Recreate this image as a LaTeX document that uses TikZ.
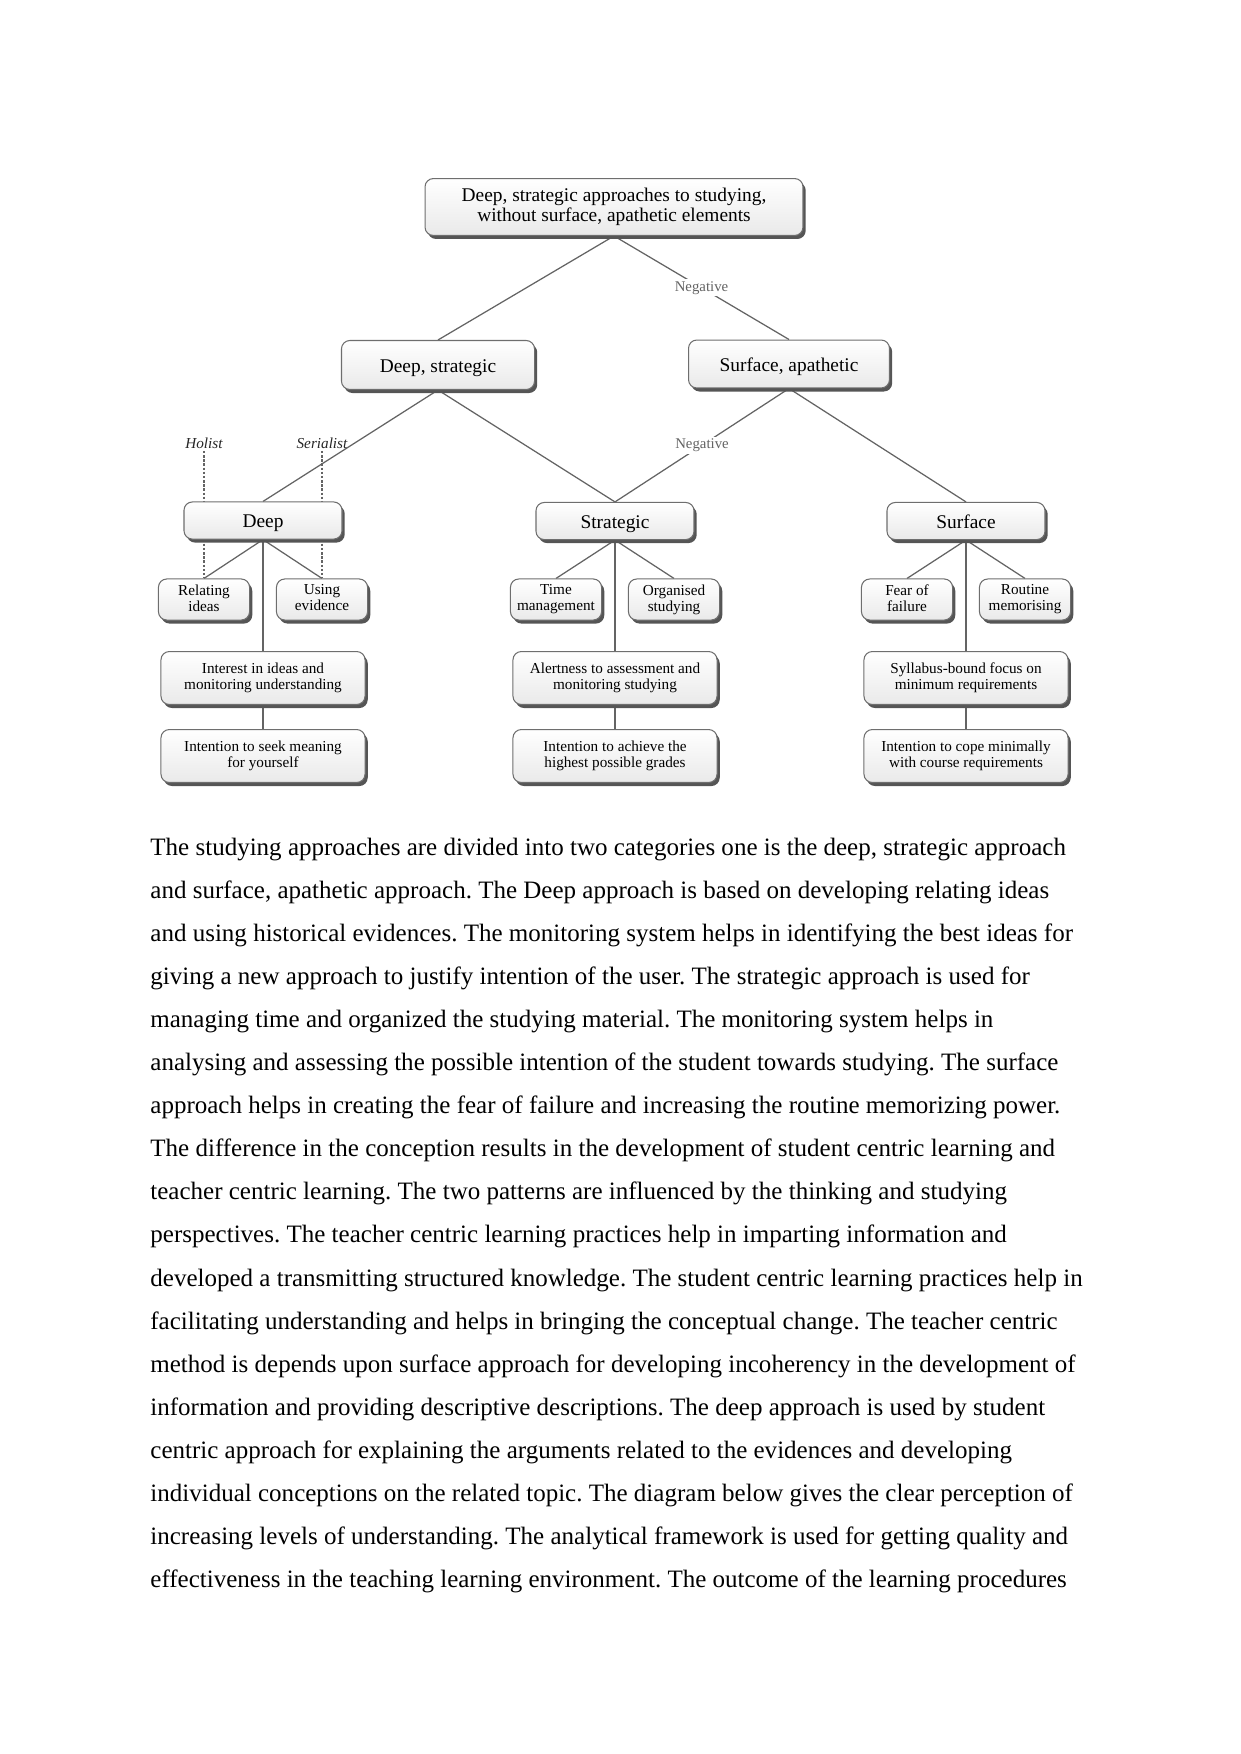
\documentclass[tikz,border=0pt]{standalone}
\usepackage{fontspec}
\setmainfont{Liberation Serif}
\usetikzlibrary{shadows,backgrounds}
\definecolor{linegray}{RGB}{100,100,100}
\definecolor{bordergray}{RGB}{110,110,110}
\definecolor{shadowgray}{RGB}{85,85,85}
\frenchspacing
\begin{document}
\begin{tikzpicture}[x=0.4797pt,y=-0.4797pt,
  box/.style={draw=bordergray, line width=0.5pt, rounded corners=4pt,
    top color=white, bottom color=gray!17,
    drop shadow={shadow xshift=1.3pt, shadow yshift=-1.7pt, fill=shadowgray, opacity=1},
    align=center, inner sep=0pt, text=black},
  big/.style={box, font=\fontsize{9.3}{9.6}\selectfont,
    execute at begin node=\rule{0pt}{8.9pt}, execute at end node=\rule[-2pt]{0pt}{2pt}},
  lvlthree/.style={big, minimum width=75.8pt, minimum height=17.8pt},
  smallbox/.style={box, font=\fontsize{7.3}{7.6}\selectfont, minimum width=43.7pt, minimum height=19.7pt,
    execute at begin node=\rule{0pt}{6.7pt}, execute at end node=\rule[-1.6pt]{0pt}{1.6pt}},
  midbox/.style={box, font=\fontsize{7.3}{7.4}\selectfont, minimum width=97.9pt, minimum height=25.4pt,
    execute at begin node=\rule{0pt}{6pt}, execute at end node=\rule[-1.6pt]{0pt}{1.6pt}},
  conn/.style={draw=linegray, line width=0.6pt},
  dashln/.style={draw=linegray, line width=0.6pt, dash pattern=on 1.2pt off 0.8pt},
  neg/.style={fill=white, inner sep=1pt, font=\fontsize{7.1}{8}\selectfont, text=linegray},
  style lbl/.style={font=\fontsize{7.3}{8}\selectfont\itshape, inner sep=1pt, text=black!85},
  body/.style={anchor=base west, inner sep=0pt, font=\fontsize{12}{13.8}\selectfont}
]
\useasboundingbox (0,0) rectangle (1241,1754);

% level 1 and 2
\node[big, minimum width=181.3pt, minimum height=27.3pt, execute at begin node=\rule{0pt}{11pt}] (top) at (614,207) {Deep, strategic approaches to studying,\\without surface, apathetic elements};
\node[big, minimum width=92.6pt, minimum height=23.5pt] (ds) at (438,365) {Deep, strategic};
\node[big, minimum width=96.4pt, minimum height=23pt] (sa) at (789,364) {Surface, apathetic};

% level 3
\node[lvlthree] (deep) at (263,520.5) {Deep};
\node[lvlthree] (strat) at (615,521) {Strategic};
\node[lvlthree] (surf) at (966,521) {Surface};

% small boxes
\node[smallbox] (rel) at (204,599.5) {Relating\\ideas};
\node[smallbox] (use) at (322,599.5) {Using\\evidence};
\node[smallbox] (time) at (556,599.5) {Time\\management};
\node[smallbox] (org) at (674,599.5) {Organised\\studying};
\node[smallbox] (fear) at (907,599.5) {Fear of\\failure};
\node[smallbox] (rout) at (1025,599.5) {Routine\\memorising};

% middle boxes
\node[midbox] (int) at (263,678) {Interest in ideas and\\monitoring understanding};
\node[midbox] (alert) at (615,678) {Alertness to assessment and\\monitoring studying};
\node[midbox] (syl) at (966,678) {Syllabus-bound focus on\\minimum requirements};

% bottom boxes
\node[midbox] (seek) at (263,756) {Intention to seek meaning\\for yourself};
\node[midbox] (grade) at (615,756) {Intention to achieve the\\highest possible grades};
\node[midbox] (cope) at (966,756) {Intention to cope minimally\\with course requirements};

% style labels
\node[style lbl] (hol) at (204,443) {Holist};
\node[style lbl] (ser) at (322,443) {Serialist};

\begin{scope}[on background layer]
  \draw[conn] (top.south) -- (ds.north);
  \draw[conn] (top.south) -- node[neg] {Negative} (sa.north);
  \draw[conn] (ds.south) -- (deep.north);
  \draw[conn] (ds.south) -- (strat.north);
  \draw[conn] (sa.south) -- node[neg] {Negative} (strat.north);
  \draw[conn] (sa.south) -- (surf.north);
  \foreach \p/\l/\r/\m/\b in {deep/rel/use/int/seek, strat/time/org/alert/grade, surf/fear/rout/syl/cope}{
    \draw[conn] (\p.south) -- (\l.north);
    \draw[conn] (\p.south) -- (\r.north);
    \draw[conn] (\p.south) -- (\m.north);
    \draw[conn] (\m.south) -- (\b.north);
  }
  \draw[dashln] (hol.south) -- (hol.south |- deep.north);
  \draw[dashln] (rel.north |- deep.south) -- (rel.north);
  \draw[dashln] (ser.south) -- (ser.south |- deep.north);
  \draw[dashln] (use.north |- deep.south) -- (use.north);
\end{scope}

% body text
\node[body] (t1) at (150,855) {The studying approaches are divided into two categories one is the deep, strategic approach};
\node[body] (t2) at (150,898.1) {and surface, apathetic approach. The Deep approach is based on developing relating ideas};
\node[body] (t3) at (150,941.2) {and using historical evidences. The monitoring system helps in identifying the best ideas for};
\node[body] (t4) at (150,984.3) {giving a new approach to justify intention of the user. The strategic approach is used for};
\node[body] (t5) at (150,1027.4) {managing time and organized the studying material. The monitoring system helps in};
\node[body] (t6) at (150,1070.5) {analysing and assessing the possible intention of the student towards studying. The surface};
\node[body] (t7) at (150,1113.6) {approach helps in creating the fear of failure and increasing the routine memorizing power.};
\node[body] (t8) at (150,1156.7) {The difference in the conception results in the development of student centric learning and};
\node[body] (t9) at (150,1199.8) {teacher centric learning. The two patterns are influenced by the thinking and studying};
\node[body] (t10) at (150,1242.9) {perspectives. The teacher centric learning practices help in imparting information and};
\node[body] (t11) at (150,1286) {developed a transmitting structured knowledge. The student centric learning practices help in};
\node[body] (t12) at (150,1329.1) {facilitating understanding and helps in bringing the conceptual change. The teacher centric};
\node[body] (t13) at (150,1372.2) {method is depends upon surface approach for developing incoherency in the development of};
\node[body] (t14) at (150,1415.3) {information and providing descriptive descriptions. The deep approach is used by student};
\node[body] (t15) at (150,1458.4) {centric approach for explaining the arguments related to the evidences and developing};
\node[body] (t16) at (150,1501.5) {individual conceptions on the related topic. The diagram below gives the clear perception of};
\node[body] (t17) at (150,1544.6) {increasing levels of understanding. The analytical framework is used for getting quality and};
\node[body] (t18) at (150,1587.7) {effectiveness in the teaching learning environment. The outcome of the learning procedures};
\end{tikzpicture}
\end{document}
